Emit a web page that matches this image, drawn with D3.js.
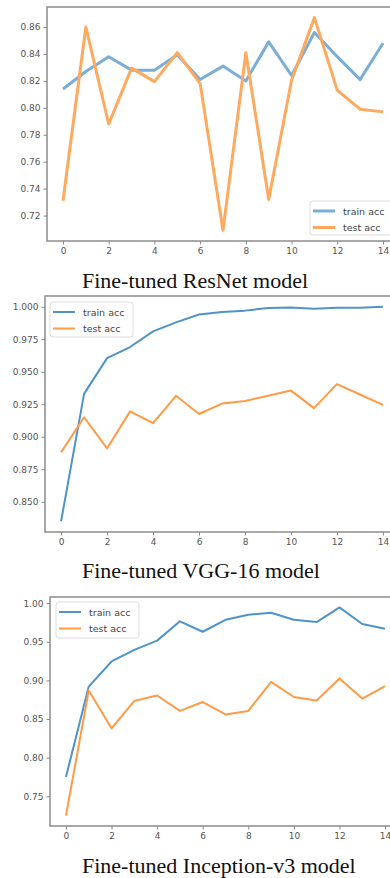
<!DOCTYPE html>
<html>
<head>
<meta charset="utf-8">
<script src="https://cdn.jsdelivr.net/npm/d3@7"></script>
<style>
  body { margin: 0; background: #fff; }
  svg { display: block; }
  .tick text { font-family: "DejaVu Sans", sans-serif; fill: #555; }
</style>
</head>
<body>
<div id="chart"></div>
<script>
// epochs on the x axis
var epochs = [0, 1, 2, 3, 4, 5, 6, 7, 8, 9, 10, 11, 12, 13, 14];
var xTicks = [0, 2, 4, 6, 8, 10, 12, 14];

// ResNet
var resnetTrain = [0.814, 0.827, 0.838, 0.828, 0.828, 0.8395, 0.821, 0.831, 0.820, 0.849, 0.824, 0.856, 0.838, 0.821, 0.848];
var resnetTest = [0.731, 0.860, 0.788, 0.8295, 0.8195, 0.841, 0.818, 0.709, 0.841, 0.732, 0.8205, 0.867, 0.813, 0.799, 0.797];
var resnetYTicks = [0.72, 0.74, 0.76, 0.78, 0.80, 0.82, 0.84, 0.86];

// VGG-16
var vggTrain = [0.835, 0.933, 0.9605, 0.969, 0.981, 0.988, 0.994, 0.996, 0.997, 0.999, 0.9995, 0.9985, 0.9992, 0.9992, 1.000];
var vggTest = [0.888, 0.915, 0.891, 0.9195, 0.9105, 0.9315, 0.9175, 0.9255, 0.9275, 0.9315, 0.9355, 0.922, 0.9405, 0.9325, 0.9245];
var vggYTicks = [0.850, 0.875, 0.900, 0.925, 0.950, 0.975, 1.000];

// Inception-v3
var incTrain = [0.775, 0.892, 0.9245, 0.9395, 0.9515, 0.9765, 0.963, 0.9785, 0.985, 0.9875, 0.9785, 0.9755, 0.9945, 0.973, 0.967];
var incTest = [0.725, 0.887, 0.838, 0.8735, 0.8805, 0.8605, 0.872, 0.856, 0.8605, 0.898, 0.8785, 0.874, 0.9025, 0.8765, 0.8925];
var incYTicks = [0.75, 0.80, 0.85, 0.90, 0.95, 1.00];

var seriesNames = ["train acc", "test acc"];
var captions = ["Fine-tuned ResNet model", "Fine-tuned VGG-16 model", "Fine-tuned Inception-v3 model"];

var W = 390, H = 878;
var svg = d3.select("#chart").append("svg").attr("width", W).attr("height", H);

var panels = [
  {train: resnetTrain, test: resnetTest, yTicks: resnetYTicks, fmt: ".2f", caption: captions[0],
   left: 47, right: 399, top: 7, bottom: 241, capY: 288, lw: 3,
   colors: ["#7aaed6", "#ffa95f"], legend: {x: 310, y: 201, w: 90, h: 34}},
  {train: vggTrain, test: vggTest, yTicks: vggYTicks, fmt: ".3f", caption: captions[1],
   left: 45, right: 399, top: 296, bottom: 532, capY: 578, lw: 2,
   colors: ["#4f93c9", "#ff9a45"], legend: {x: 50, y: 302, w: 83, h: 35}},
  {train: incTrain, test: incTest, yTicks: incYTicks, fmt: ".2f", caption: captions[2],
   left: 50, right: 401, top: 597, bottom: 826, capY: 873, lw: 2,
   colors: ["#4f93c9", "#ff9a45"], legend: {x: 56, y: 602, w: 83, h: 36}}
];

panels.forEach(function(p) {
  var g = svg.append("g");
  var all = p.train.concat(p.test);
  var lo = d3.min(all), hi = d3.max(all), pad = (hi - lo) * 0.05;

  var x = d3.scaleLinear().domain([-0.7, 14.7]).range([p.left, p.right]);
  var y = d3.scaleLinear().domain([lo - pad, hi + pad]).range([p.bottom, p.top]);

  // lines
  var line = d3.line()
    .x(function(d, i) { return x(epochs[i]); })
    .y(function(d) { return y(d); });

  [p.train, p.test].forEach(function(s, k) {
    g.append("path")
      .datum(s)
      .attr("fill", "none")
      .attr("stroke", p.colors[k])
      .attr("stroke-width", p.lw)
      .attr("stroke-linejoin", "round")
      .attr("d", line);
  });

  // axes
  var xAxis = g.append("g")
    .attr("transform", "translate(0," + p.bottom + ")")
    .call(d3.axisBottom(x).tickValues(xTicks).tickSize(3.5).tickPadding(3).tickFormat(d3.format("d")));
  var yAxis = g.append("g")
    .attr("transform", "translate(" + p.left + ",0)")
    .call(d3.axisLeft(y).tickValues(p.yTicks).tickSize(3.5).tickPadding(3).tickFormat(d3.format(p.fmt)));
  [xAxis, yAxis].forEach(function(a) {
    a.select(".domain").remove();
    a.selectAll(".tick line").attr("stroke", "#888").attr("stroke-width", 1);
    a.selectAll(".tick text").style("font-size", "9px");
  });

  // frame
  g.append("rect")
    .attr("x", p.left).attr("y", p.top)
    .attr("width", p.right - p.left).attr("height", p.bottom - p.top)
    .attr("fill", "none").attr("stroke", "#8c8c8c").attr("stroke-width", 1.5);

  // legend
  var L = p.legend;
  var lg = g.append("g").attr("transform", "translate(" + L.x + "," + L.y + ")");
  lg.append("rect")
    .attr("width", L.w).attr("height", L.h).attr("rx", 3)
    .attr("fill", "#fff").attr("fill-opacity", 0.85)
    .attr("stroke", "#ddd");
  seriesNames.forEach(function(name, k) {
    var ry = 10 + k * 16.5;
    lg.append("line")
      .attr("x1", 3).attr("x2", 25).attr("y1", ry).attr("y2", ry)
      .attr("stroke", p.colors[k]).attr("stroke-width", p.lw);
    lg.append("text")
      .attr("x", 33).attr("y", ry + 3.5)
      .attr("font-family", "DejaVu Sans, sans-serif")
      .attr("font-size", "9.5px")
      .attr("fill", "#444")
      .text(name);
  });

  // caption
  svg.append("text")
    .attr("x", 82).attr("y", p.capY)
    .attr("font-family", "Liberation Serif, serif")
    .attr("font-size", "22px")
    .attr("fill", "#111")
    .text(p.caption);
});
</script>
</body>
</html>
